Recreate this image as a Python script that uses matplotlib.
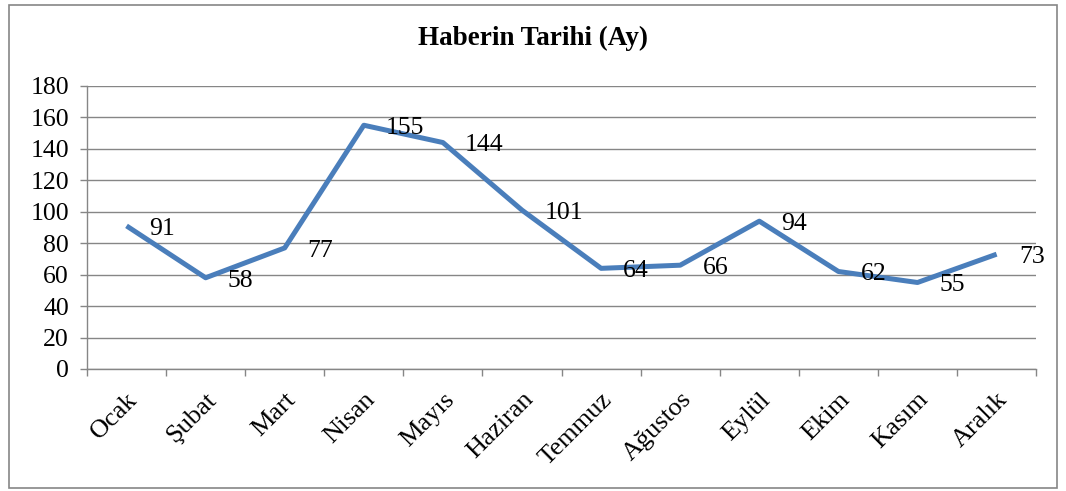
import matplotlib.pyplot as plt
from matplotlib.patches import Rectangle
from matplotlib.transforms import ScaledTranslation

plt.rcParams['font.family'] = ['Liberation Serif', 'DejaVu Serif']

months = ['Ocak', 'Şubat', 'Mart', 'Nisan', 'Mayıs', 'Haziran', 'Temmuz',
          'Ağustos', 'Eylül', 'Ekim', 'Kasım', 'Aralık']
counts = [91, 58, 77, 155, 144, 101, 64, 66, 94, 62, 55, 73]
yticks = list(range(0, 181, 20))

grey = '#868686'

fig = plt.figure(figsize=(10.66, 4.91), dpi=100)
ax = fig.add_axes([0.0816, 0.2485, 0.8904, 0.5765])

x = list(range(len(months)))
ax.plot(x, counts, color='#4A7EBB', linewidth=3.6, solid_joinstyle='round',
        solid_capstyle='butt', zorder=3)

for xi, v in zip(x, counts):
    ax.annotate(str(v), (xi, v), xytext=(16, -2), textcoords='offset points',
                ha='left', va='center', fontsize=18.5, zorder=4)

ax.set_xlim(-0.5, len(months) - 0.5)
ax.set_ylim(0, 180)
ax.set_yticks(yticks)
ax.yaxis.grid(True, color=grey, linewidth=1.0)
ax.set_axisbelow(True)

# category labels at centres, tick marks at boundaries
ax.set_xticks([i - 0.5 for i in range(len(months) + 1)])
ax.set_xticklabels([])
ax.set_xticks(x, minor=True)
ax.set_xticklabels(months, minor=True, rotation=45, ha='right',
                   rotation_mode='anchor', fontsize=19)
shift = ScaledTranslation(-4 / 100, 0, fig.dpi_scale_trans)
for lbl in ax.get_xticklabels(minor=True):
    lbl.set_transform(lbl.get_transform() + shift)
ax.tick_params(axis='x', which='minor', length=0, pad=14)
ax.tick_params(axis='x', which='major', length=5, color=grey, width=1.0)
ax.tick_params(axis='y', length=5, color=grey, width=1.0, labelsize=18.5, pad=8)

for s in ['top', 'right']:
    ax.spines[s].set_visible(False)
for s in ['left', 'bottom']:
    ax.spines[s].set_color(grey)
    ax.spines[s].set_linewidth(1.0)

fig.text(0.5, 0.922, 'Haberin Tarihi (Ay)', ha='center', va='center',
         fontsize=19.5, fontweight='bold')

fig.patches.append(Rectangle((0.008, 0.006), 0.984, 0.984, transform=fig.transFigure,
                             fill=False, edgecolor=grey, linewidth=1.2))

fig.savefig('out.png', dpi=100)
